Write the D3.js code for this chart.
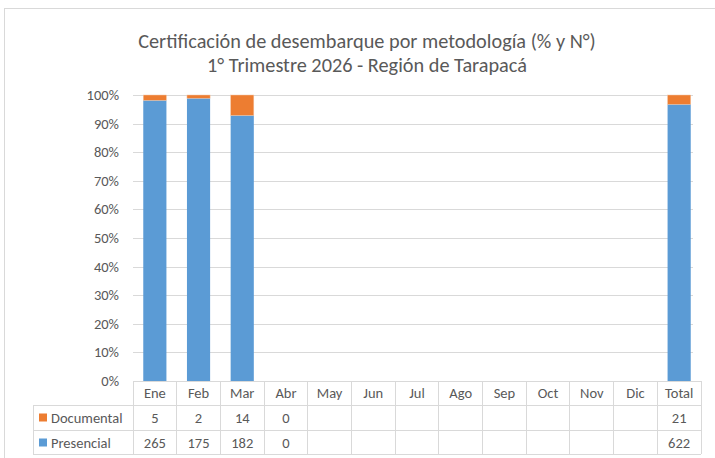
<!DOCTYPE html>
<html>
<head>
<meta charset="utf-8">
<script src="https://cdn.jsdelivr.net/npm/d3@7"></script>
<style>
  body { margin: 0; background: #fff; }
  text { font-family: Carlito, Calibri, Lato, sans-serif; fill: #595959; }
</style>
</head>
<body>
<div id="chart"></div>
<script>
// categories and values
const months = ["Ene", "Feb", "Mar", "Abr", "May", "Jun", "Jul", "Ago", "Sep", "Oct", "Nov", "Dic", "Total"];
const documental = [5, 2, 14, 0, null, null, null, null, null, null, null, null, 21];
const presencial = [265, 175, 182, 0, null, null, null, null, null, null, null, null, 622];
const yTicks = [0, 0.1, 0.2, 0.3, 0.4, 0.5, 0.6, 0.7, 0.8, 0.9, 1];
const titleLines = ["Certificación de desembarque por metodología (% y N°)", "1° Trimestre 2026 - Región de Tarapacá"];

const W = 715, H = 458;
const plot = { left: 133, right: 701, top: 95, bottom: 381 };
const rowH = [24, 25, 24];
const legendLeft = 33;
const colors = { Documental: "#ed7d31", Presencial: "#5b9bd5" };
const gridColor = "#d9d9d9";
const fs = "14.5px";

var svg = d3.select("#chart").append("svg")
	.attr("width", W)
	.attr("height", H);

// outer chart border
svg.append("rect")
	.attr("x", 4.5).attr("y", 8.5)
	.attr("width", 730).attr("height", 470)
	.attr("fill", "none")
	.attr("stroke", gridColor);

// title
svg.append("g").selectAll("text")
	.data(titleLines)
	.enter().append("text")
	.attr("x", 367)
	.attr("y", function (d, i) { return 48 + i * 24; })
	.attr("text-anchor", "middle")
	.style("font-size", "20.3px")
	.text(function (d) { return d; });

var x = d3.scaleBand()
	.domain(months)
	.range([plot.left, plot.right]);

var y = d3.scaleLinear()
	.domain([0, 1])
	.range([plot.bottom, plot.top]);

// gridlines
svg.append("g").selectAll("line")
	.data(yTicks.slice(1))
	.enter().append("line")
	.attr("x1", plot.left).attr("x2", plot.right - 8)
	.attr("y1", function (d) { return Math.round(y(d)) + 0.5; })
	.attr("y2", function (d) { return Math.round(y(d)) + 0.5; })
	.attr("stroke", gridColor);

// y axis labels
svg.append("g").selectAll("text")
	.data(yTicks)
	.enter().append("text")
	.attr("x", 119)
	.attr("y", function (d) { return y(d) + 5; })
	.attr("text-anchor", "end")
	.style("font-size", fs)
	.text(d3.format(".0%"));

// stacked 100% bars
var rows = months.map(function (m, i) {
	var p = presencial[i] || 0, dc = documental[i] || 0, t = p + dc;
	return { m: m, p: t ? p / t : 0, d: t ? dc / t : 0, t: t };
}).filter(function (r) { return r.t > 0; });

var barW = x.bandwidth() * 0.53;
var bars = svg.append("g");
bars.selectAll(".pres")
	.data(rows)
	.enter().append("rect")
	.attr("x", function (d) { return x(d.m) + (x.bandwidth() - barW) / 2; })
	.attr("width", barW)
	.attr("y", function (d) { return y(d.p); })
	.attr("height", function (d) { return y(0) - y(d.p); })
	.attr("fill", colors.Presencial);
bars.selectAll(".doc")
	.data(rows)
	.enter().append("rect")
	.attr("x", function (d) { return x(d.m) + (x.bandwidth() - barW) / 2; })
	.attr("width", barW)
	.attr("y", y(1))
	.attr("height", function (d) { return y(d.p) - y(1); })
	.attr("fill", colors.Documental)
	.attr("stroke", "#f4c7a8")
	.attr("stroke-width", 0.5);

// data table
var t0 = plot.bottom, t1 = t0 + rowH[0], t2 = t1 + rowH[1], t3 = t2 + rowH[2];
var table = svg.append("g")
	.attr("stroke", gridColor)
	.attr("shape-rendering", "crispEdges");
table.append("line").attr("x1", plot.left).attr("x2", plot.right).attr("y1", t0).attr("y2", t0);
[t1, t2, t3].forEach(function (yy) {
	table.append("line").attr("x1", legendLeft).attr("x2", plot.right).attr("y1", yy).attr("y2", yy);
});
table.append("line").attr("x1", legendLeft).attr("x2", legendLeft).attr("y1", t1).attr("y2", t3);
months.forEach(function (m) {
	table.append("line").attr("x1", x(m)).attr("x2", x(m)).attr("y1", t0).attr("y2", t3);
});
table.append("line").attr("x1", plot.right).attr("x2", plot.right).attr("y1", t0).attr("y2", t3);

// header labels
svg.append("g").selectAll("text")
	.data(months)
	.enter().append("text")
	.attr("x", function (d) { return x(d) + x.bandwidth() / 2; })
	.attr("y", t0 + 17)
	.attr("text-anchor", "middle")
	.style("font-size", fs)
	.text(function (d) { return d; });

var series = [
	{ name: "Documental", values: documental, y0: t1 },
	{ name: "Presencial", values: presencial, y0: t2 }
];
series.forEach(function (s) {
	var g = svg.append("g");
	g.append("rect")
		.attr("x", 39).attr("y", s.y0 + 8.5)
		.attr("width", 8).attr("height", 8)
		.attr("fill", colors[s.name]);
	g.append("text")
		.attr("x", 51).attr("y", s.y0 + 17.5)
		.style("font-size", fs)
		.text(s.name);
	g.selectAll(".v")
		.data(s.values.map(function (v, i) { return { v: v, m: months[i] }; }).filter(function (d) { return d.v !== null; }))
		.enter().append("text")
		.attr("x", function (d) { return x(d.m) + x.bandwidth() / 2; })
		.attr("y", s.y0 + 17.5)
		.attr("text-anchor", "middle")
		.style("font-size", fs)
		.text(function (d) { return d.v; });
});
</script>
</body>
</html>
